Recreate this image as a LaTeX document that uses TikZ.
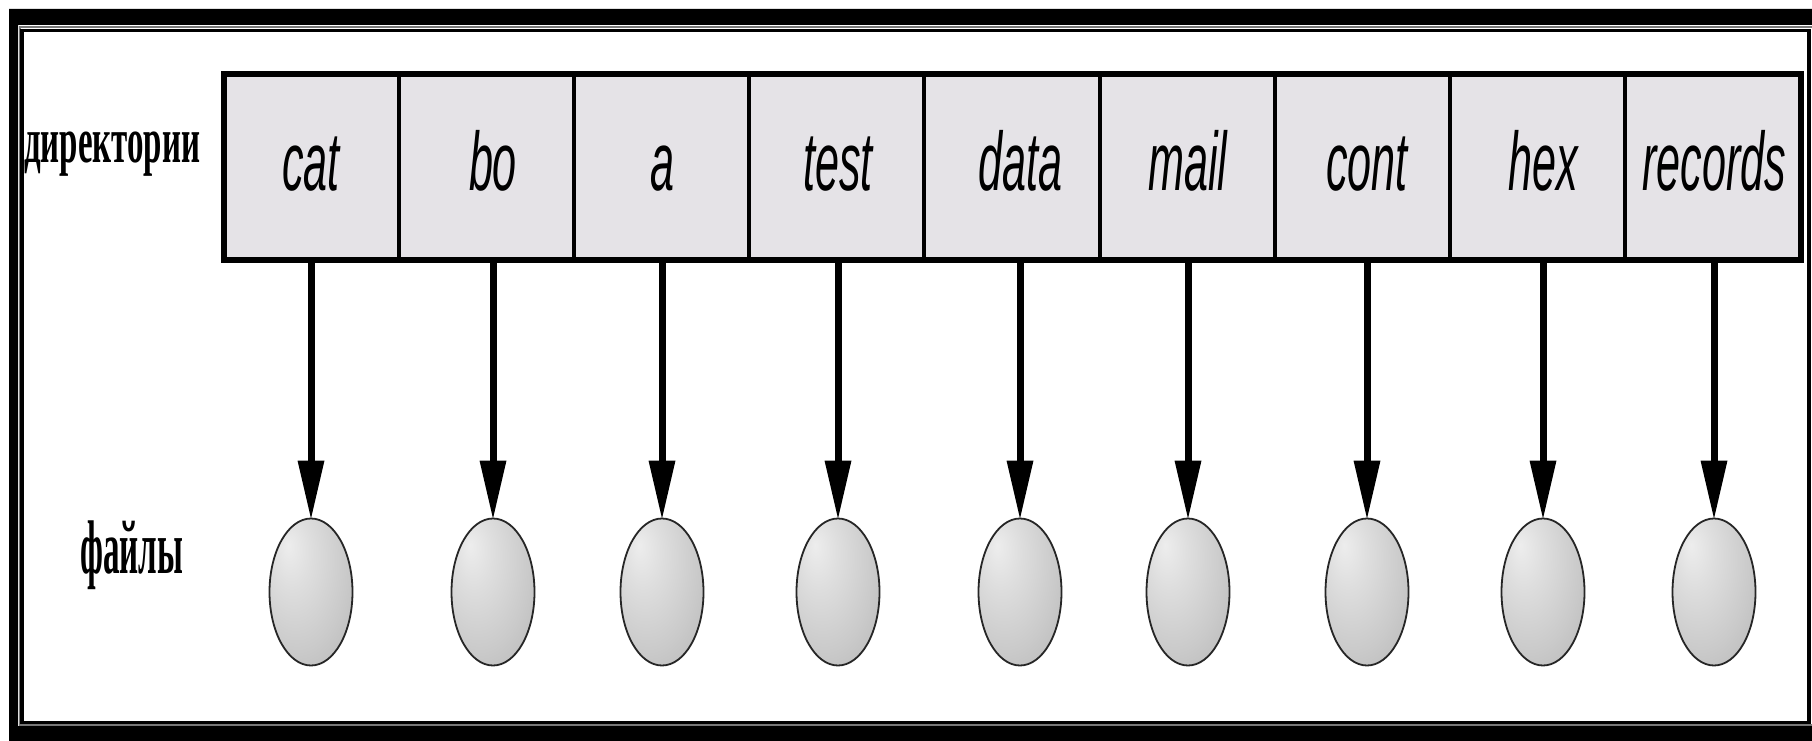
\documentclass[tikz,border=0pt]{standalone}
\usepackage{fontspec}
\setmainfont{Liberation Serif}
\setsansfont{Liberation Sans}
\usetikzlibrary{arrows.meta,shapes.geometric}

\definecolor{cellgray}{RGB}{229,227,231}
\definecolor{rimgray}{RGB}{120,120,120}

% soft grey sphere-like shading with the highlight towards the upper left
\pgfdeclareradialshading{filesphere}{\pgfpoint{-14bp}{16bp}}{%
  color(0bp)=(gray!14);
  color(12bp)=(gray!26);
  color(30bp)=(gray!42);
  color(50bp)=(gray!62);
  color(72bp)=(gray!80)}

\newcommand{\cellword}[1]{\scalebox{0.52}[1]{#1}}

\begin{document}
\begin{tikzpicture}[x=1pt,y=-1pt,
  cell/.style={draw=black, line width=4pt, fill=cellgray,
    minimum width=175.2pt, minimum height=185pt, inner sep=0pt, outer sep=0pt},
  tableframe/.style={draw=black, line width=6pt,
    minimum width=1577pt, minimum height=185pt, inner sep=0pt, outer sep=0pt},
  cellname/.style={anchor=base, inner sep=0pt,
    font=\fontsize{83pt}{90pt}\selectfont\sffamily\itshape},
  filenode/.style={ellipse, draw=black!85, line width=1.8pt,
    shading=filesphere, minimum width=83pt, minimum height=147pt,
    inner sep=0pt, outer sep=0pt},
  rowlabel/.style={anchor=base west, inner sep=0pt},
  link/.style={line width=7pt, draw=black,
    -{Triangle[length=58pt, width=27pt, line width=0pt]}}
]
\useasboundingbox (0,0) rectangle (1812,741);
\clip (0,0) rectangle (1812,741);
\fill[white] (0,0) rectangle (1812,741);

% double frame round the figure
\fill[black, even odd rule] (9,9) rectangle (1840,760) (18,25) rectangle (1813,726);
\draw[rimgray, line width=2pt] (19.5,26.8) rectangle (1812.5,724.5);
\draw[black, line width=3.5pt] (21.8,30.5) rectangle (1808.8,722.5);

% directory table
\foreach \i in {1,...,9}
  \node[cell] (c\i) at ({223.5+175.2*(\i-0.5)},167) {};
\node[tableframe] (tbl) at (1012,167) {};

% entries, files and the links between them
\foreach \w/\x [count=\i] in {cat/311, bo/493, a/662, test/838, data/1020,
    mail/1188, cont/1367, hex/1543, records/1714} {
  \node[cellname] (t\i) at (\x,190) {\cellword{\w}};
  \node[filenode] (f\i) at (\x,592) {};
  \draw[link] (f\i |- tbl.south) -- (f\i.north);
}

% row labels
\node[rowlabel] (dirs) at (24,163)
  {\resizebox{176pt}{\height}{\fontsize{65pt}{70pt}\selectfont\bfseries директории}};
\node[rowlabel] (files) at (80,573)
  {\resizebox{103pt}{\height}{\fontsize{76pt}{80pt}\selectfont\bfseries файлы}};
\end{tikzpicture}
\end{document}
